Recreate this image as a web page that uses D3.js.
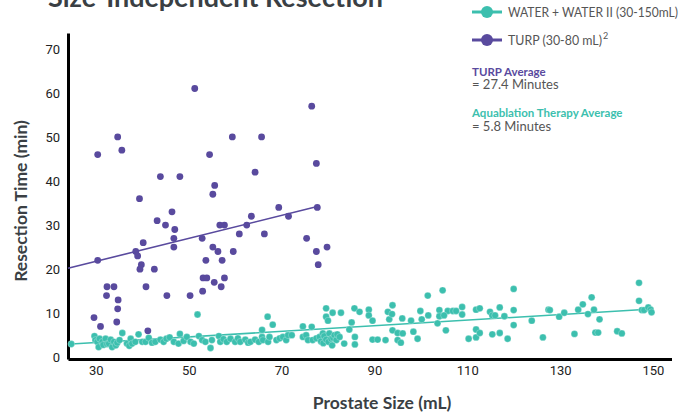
<!DOCTYPE html>
<html>
<head>
<meta charset="utf-8">
<script src="https://cdn.jsdelivr.net/npm/d3@7/dist/d3.min.js"></script>
<style>
  html, body { margin: 0; padding: 0; background: #fff; }
  svg { display: block; }
</style>
</head>
<body>
<svg id="chart" width="697" height="413"></svg>
<script>
// ---------- DATA ----------
const title = "Size-Independent Resection";
const xTicks = [30, 50, 70, 90, 110, 130, 150];
const yTicks = [0, 10, 20, 30, 40, 50, 60, 70];

const turpPoints = [
  [30.4,22],[29.6,9],[31,7],[32.4,16],[33.9,16],[32.3,14],[34.8,13],[34.7,11],[34.5,8],
  [38.6,24],[39,23],[40.2,26],[39.8,21],[39.5,20],[40.8,16],[41.2,6],[42.6,20],[43.2,31],
  [45,30],[46.4,33],[47,29],[46.8,27],[46.8,25],[45.3,14],[50.3,14],[52.9,27],[53.7,22],
  [53.1,18],[53.9,18],[53,15],[55.2,25],[56.3,24],[56.7,30],[57.7,30],[57.2,22],[57.7,18],
  [57,16],[55.5,17],[59.6,24],[60.9,28],[62.5,30],[63.5,32],[39.4,36],[51.3,61],[34.7,50],
  [59.4,50],[65.7,50],[30.4,46],[35.6,47],[54.5,46],[43.9,41],[48.1,41],[64.3,42],[55.6,39],
  [55.2,37],[76.5,57],[77.5,44],[69.4,34],[77.7,34],[71.5,32],[66.3,28],[75.4,27],[79.8,25],
  [77.5,24],[77.9,21]
];

const waterPoints = [
  [24.7,3.0],[29.7,4.8],[29.9,3.9],[30.3,3.5],[30.6,2.3],[30.8,4.2],[31.4,3.5],[31.6,2.8],
  [32.1,4.2],[32.4,3.0],[32.8,3.1],[33.2,4.0],[33.5,2.3],[33.9,3.5],[34.3,2.7],[34.6,3.3],
  [35.1,3.9],[35.7,5.5],[36.7,3.1],[37.2,2.6],[37.5,4.2],[37.8,3.1],[38.5,3.5],[39.2,5.2],
  [40,3.5],[40.7,3.5],[41.4,4.4],[42.1,3.3],[42.8,3.5],[43.9,4.0],[44.6,3.5],[45.2,4.2],
  [45.9,4.5],[46.8,3.5],[47.8,3.1],[48.1,5.3],[48.9,3.7],[49.6,4.6],[50.4,3.5],[51.1,3.1],
  [51.9,9.7],[52.2,4.8],[52.9,3.9],[53.6,3.5],[54.7,2.1],[55,3.9],[56.5,4.8],[56.8,3.5],
  [57.5,4.1],[58.2,3.5],[59,4.2],[60,3.5],[60.6,4.3],[61.1,3.5],[62.2,4.0],[62.8,3.3],
  [63.3,3.5],[64.3,4.0],[65.1,3.5],[65.8,4.6],[65.8,6.2],[66,3.9],[67,9.2],[67.1,3.5],
  [67.4,4.6],[68.1,7.4],[68.9,3.9],[69.6,4.3],[70.3,4.6],[71,3.9],[71.4,5.0],[72.2,5.0],
  [74.6,7.0],[74.6,4.6],[75.3,5.0],[75.7,3.9],[76.5,6.9],[76.7,3.9],[77.5,4.3],[78.2,4.6],
  [78.5,3.6],[78.9,5.4],[79.2,4.8],[79,3.2],[79.6,11.1],[79.6,9.2],[80,8.3],[79.6,4.0],
  [80.1,3.5],[80.3,5.4],[80.7,4.2],[81,10.1],[81.1,4.4],[81.4,5.0],[81.8,3.9],[80.9,2.7],
  [82,5.2],[82.5,4.6],[82.8,10.1],[83.5,3.1],[84.6,6.3],[85.1,7.9],[85.7,11.1],[86.8,10.3],
  [85.8,4.6],[85.8,2.9],[88.8,10.8],[88.8,9.5],[89.6,8.3],[89.6,4.0],[90.7,4.0],[92.4,3.9],
  [92.9,10.3],[93.2,8.6],[93.8,9.8],[93.9,11.8],[93.9,6.1],[95,5.5],[96.1,5.4],[95,3.9],
  [95.7,3.3],[96,8.8],[97.9,8.3],[98.4,5.8],[99.3,4.2],[99.9,10.5],[100.2,8.6],[101.5,14.0],
  [101.6,9.5],[103.6,7.7],[104,10.7],[104,9.3],[104.7,15.2],[105.4,6.1],[105.8,10.5],
  [106.9,10.5],[105,9.5],[107.6,10.5],[108.9,11.4],[108.9,9.7],[110.3,4.2],[111.9,10.8],
  [112.7,11.1],[111.9,6.3],[111.9,4.5],[112.7,5.5],[114.9,10.3],[115.4,9.5],[116,9.5],
  [115.4,5.2],[117,11.3],[117,5.5],[118,9.3],[118.7,4.2],[120,15.5],[120,10.7],[120,7.3],
  [123.9,8.3],[126.3,4.5],[127.5,10.8],[127.8,10.7],[129.8,9.2],[130.9,10.1],[133.1,5.3],
  [133.9,10.8],[134.9,12.0],[136,9.8],[136.8,13.6],[137.3,10.8],[137.6,5.6],[138.2,5.6],
  [138.5,8.6],[142.3,5.9],[143.3,5.4],[147,16.9],[147,12.8],[147.6,10.7],[148.1,10.7],
  [149,11.3],[149.5,10.8],[149.7,10.2]
];

const turpTrend = [[24, 20.2], [77.7, 34.2]];
const waterTrend = [[24.7, 3.0], [149.8, 10.95]];

const legendLabels = ["WATER + WATER II (30-150mL)", "TURP (30-80 mL)"];
const notes = [
  { head: "TURP Average", body: "= 27.4 Minutes", series: "turp" },
  { head: "Aquablation Therapy Average", body: "= 5.8 Minutes", series: "water" }
];

// ---------- STYLE ----------
const teal = "#3cbfae";
const purple = "#594a9e";
const dark = "#3a3f44";
const font = "Lato, 'Open Sans', sans-serif";

const svg = d3.select("#chart");

const x = d3.scaleLinear().domain([24, 154]).range([68, 671.5]);
const y = d3.scaleLinear().domain([-0.4, 73.6]).range([359, 33]);

// Title (partially cut off at top, as in the reference)
svg.append("text")
  .attr("x", 48).attr("y", 7)
  .attr("font-family", font)
  .attr("font-weight", 700)
  .attr("font-size", 27)
  .attr("fill", dark)
  .attr("textLength", 335)
  .attr("lengthAdjust", "spacingAndGlyphs")
  .text(title);

// Axes
const yAxis = svg.append("g")
  .attr("transform", `translate(${x(24)},0)`)
  .call(d3.axisLeft(y).tickValues(yTicks).tickSize(0).tickPadding(8).tickFormat(d3.format("d")));
const xAxis = svg.append("g")
  .attr("transform", `translate(0,${y(-0.4)})`)
  .call(d3.axisBottom(x).tickValues(xTicks).tickSize(0).tickPadding(7).tickFormat(d3.format("d")));

[yAxis, xAxis].forEach(g => {
  g.select(".domain").attr("stroke", "#000").attr("stroke-width", 3);
  g.selectAll("text")
    .attr("font-family", "Roboto, sans-serif")
    .attr("font-size", 13)
    .attr("fill", "#222");
});

// Axis titles
svg.append("text")
  .attr("x", 382).attr("y", 409)
  .attr("text-anchor", "middle")
  .attr("font-family", font)
  .attr("font-weight", 700)
  .attr("font-size", 17.5)
  .attr("fill", dark)
  .text("Prostate Size (mL)");

svg.append("text")
  .attr("transform", "translate(27,201) rotate(-90)")
  .attr("text-anchor", "middle")
  .attr("font-family", font)
  .attr("font-weight", 700)
  .attr("font-size", 17.5)
  .attr("fill", dark)
  .text("Resection Time (min)");

// Trend lines
const line = d3.line().x(d => x(d[0])).y(d => y(d[1]));
svg.append("path").datum(turpTrend).attr("d", line)
  .attr("fill", "none").attr("stroke", purple).attr("stroke-width", 1.6);
svg.append("path").datum(waterTrend).attr("d", line)
  .attr("fill", "none").attr("stroke", teal).attr("stroke-width", 1.6);

// Points
svg.append("g").selectAll("circle").data(turpPoints).join("circle")
  .attr("cx", d => x(d[0])).attr("cy", d => y(d[1])).attr("r", 3.4)
  .attr("fill", purple);
svg.append("g").selectAll("circle").data(waterPoints).join("circle")
  .attr("cx", d => x(d[0])).attr("cy", d => y(d[1])).attr("r", 3.4)
  .attr("fill", teal).attr("stroke", "#fff").attr("stroke-width", 0.5).attr("stroke-opacity", 0.5);

// Legend
const legendColors = [teal, purple];
const legendY = [12, 40];
const legendWidths = [170, 94];
const lg = svg.append("g");
legendLabels.forEach((lab, i) => {
  const g = lg.append("g").attr("transform", `translate(0,${legendY[i]})`);
  g.append("line").attr("x1", 472).attr("x2", 502).attr("y1", 0).attr("y2", 0)
    .attr("stroke", legendColors[i]).attr("stroke-width", 3);
  g.append("circle").attr("cx", 487).attr("cy", 0).attr("r", 6).attr("fill", legendColors[i]);
  const t = g.append("text").attr("y", 5)
    .attr("font-family", font)
    .attr("font-size", 14)
    .attr("fill", "#555");
  t.append("tspan").attr("x", 508)
    .attr("textLength", legendWidths[i]).attr("lengthAdjust", "spacingAndGlyphs")
    .text(lab);
  if (i === 1) {
    t.append("tspan").attr("dy", -6).attr("dx", 1).attr("font-size", 9).text("2");
  }
});

// Average notes
const noteY = [76, 117];
const bodyY = [89, 131];
notes.forEach((n, i) => {
  svg.append("text").attr("x", 472).attr("y", noteY[i])
    .attr("font-family", font)
    .attr("font-weight", 700)
    .attr("font-size", 11.5)
    .attr("fill", n.series === "turp" ? purple : teal)
    .text(n.head);
  svg.append("text").attr("x", 472).attr("y", bodyY[i])
    .attr("font-family", font)
    .attr("font-size", 13)
    .attr("fill", "#555")
    .text(n.body);
});
</script>
</body>
</html>
